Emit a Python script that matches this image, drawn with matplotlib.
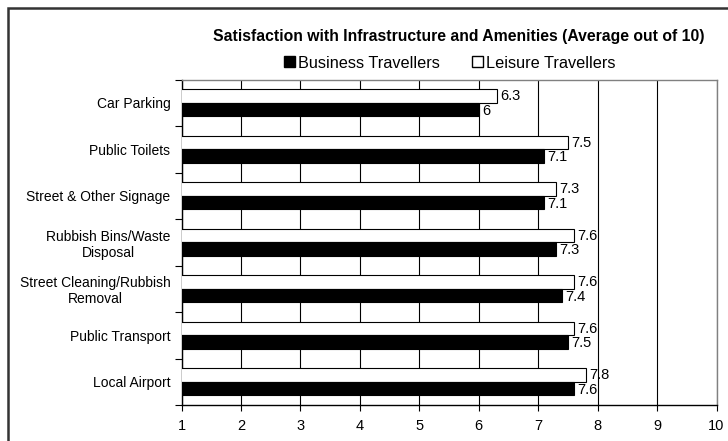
import numpy as np
import matplotlib
matplotlib.use('Agg')
import matplotlib.pyplot as plt
from matplotlib.patches import Rectangle, Patch

plt.rcParams['font.family'] = ['Liberation Sans', 'DejaVu Sans']

categories = ['Local Airport', 'Public Transport', 'Street Cleaning/Rubbish\nRemoval',
              'Rubbish Bins/Waste\nDisposal', 'Street & Other Signage',
              'Public Toilets', 'Car Parking']
business = [7.6, 7.5, 7.4, 7.3, 7.1, 7.1, 6.0]
leisure = [7.8, 7.6, 7.6, 7.6, 7.3, 7.5, 6.3]
business_labels = ['7.6', '7.5', '7.4', '7.3', '7.1', '7.1', '6']
leisure_labels = ['7.8', '7.6', '7.6', '7.6', '7.3', '7.5', '6.3']
xticks = [1, 2, 3, 4, 5, 6, 7, 8, 9, 10]

W, H = 728, 441
fig = plt.figure(figsize=(W / 100, H / 100), dpi=100)
fig.patch.set_facecolor('white')

# outer chart border (right/bottom edges run off the image)
fig.patches.append(Rectangle((8 / W, -0.05), 1.0, 1 - 8 / H + 0.05,
                             transform=fig.transFigure, fill=False,
                             edgecolor='#333333', linewidth=1.8))

ax = fig.add_axes([181.5 / W, 1 - 405 / H, (716.5 - 181.5) / W, (405 - 79.5) / H])

y = np.arange(len(categories))
h = 0.29
ax.barh(y + h / 2, leisure, height=h, left=0, color='white', edgecolor='black',
        linewidth=0.8, zorder=3)
ax.barh(y - h / 2, business, height=h, left=0, color='black', edgecolor='black',
        linewidth=0.8, zorder=3)

for yi, v, s in zip(y, leisure, leisure_labels):
    ax.text(v + 0.06, yi + h / 2, s, va='center', ha='left', fontsize=10.5, zorder=4)
for yi, v, s in zip(y, business, business_labels):
    ax.text(v + 0.06, yi - h / 2 - 0.03, s, va='center', ha='left', fontsize=10.5, zorder=4)

ax.set_xlim(1, 10)
ax.set_ylim(-0.5, len(categories) - 0.5)
ax.set_xticks(xticks)
ax.set_xticklabels([str(t) for t in xticks], fontsize=10.5)
ax.tick_params(axis='x', direction='out', length=4, width=0.8, pad=6)

ax.set_yticks(y)
ax.set_yticklabels(categories, fontsize=10, multialignment='center')
ax.tick_params(axis='y', which='major', length=0, pad=8)
ax.set_yticks(np.arange(-0.5, len(categories), 1), minor=True)
ax.tick_params(axis='y', which='minor', direction='out', length=5, width=0.8)

ax.grid(axis='x', color='black', linewidth=0.8, zorder=0)
ax.set_axisbelow(True)
ax.spines['left'].set_color('black')
ax.spines['bottom'].set_color('black')
ax.spines['top'].set_color('#808080')
ax.spines['right'].set_color('#808080')
for s in ax.spines.values():
    s.set_linewidth(1.0)

fig.text(459 / W, 1 - 37 / H, 'Satisfaction with Infrastructure and Amenities (Average out of 10)',
         ha='center', va='center', fontsize=11.3, fontweight='bold')

handles = [Patch(facecolor='black', edgecolor='black', label='Business Travellers'),
           Patch(facecolor='white', edgecolor='black', label='Leisure Travellers')]
fig.legend(handles=handles, loc='center', bbox_to_anchor=(449.5 / W, 1 - 63 / H), ncol=2,
           frameon=False, fontsize=11.7, handlelength=0.68, handleheight=0.68,
           handletextpad=0.2, columnspacing=1.95)

fig.savefig('out.png', dpi=100)
